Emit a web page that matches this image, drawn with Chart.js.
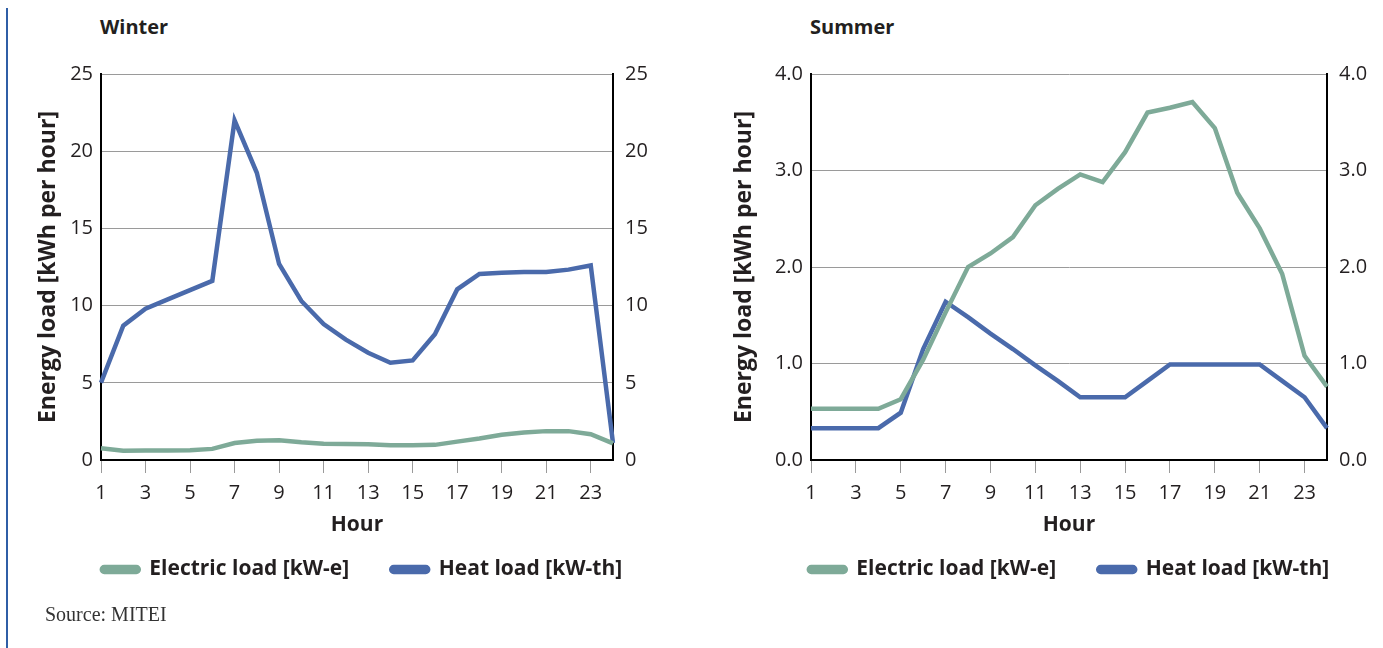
<!DOCTYPE html>
<html>
<head>
    <title>Winter and Summer Energy Load</title>
    <script src="https://cdn.jsdelivr.net/npm/chart.js"></script>
    <style>
        body {
            margin: 0;
            width: 1383px;
            height: 648px;
            overflow: hidden;
            position: relative;
            background: #fff;
            font-family: "Open Sans", sans-serif;
            color: #231f20;
        }

        .side-bar {
            position: absolute;
            left: 6px;
            top: 8px;
            width: 2px;
            height: 640px;
            background: #2f5ea6;
        }

        .panel-title {
            position: absolute;
            top: 13px;
            font-weight: bold;
            font-size: 20px;
        }

        .chart-box {
            position: absolute;
            top: 50px;
            height: 560px;
        }

        .source {
            position: absolute;
            left: 45px;
            top: 603px;
            font-family: "Liberation Serif", serif;
            font-size: 20px;
            color: #333;
        }
    </style>
</head>
<body>
    <div class="side-bar"></div>
    <div class="panel-title" style="left: 100px;">Winter</div>
    <div class="panel-title" style="left: 810px;">Summer</div>
    <div class="chart-box" style="left: 20px; width: 674px;"><canvas id="winter"></canvas></div>
    <div class="chart-box" style="left: 730px; width: 678px;"><canvas id="summer"></canvas></div>
    <div class="source">Source: MITEI</div>

    <script>
        // hours of the day, only odd ones get a label
        const HOURS = ['1', '2', '3', '4', '5', '6', '7', '8', '9', '10', '11', '12',
                       '13', '14', '15', '16', '17', '18', '19', '20', '21', '22', '23', '24'];
        const SERIES_NAMES = ['Electric load [kW-e]', 'Heat load [kW-th]'];

        const WINTER_ELECTRIC = [0.76, 0.6, 0.61, 0.61, 0.63, 0.72, 1.1, 1.24, 1.28, 1.15, 1.06, 1.04,
                                 1.02, 0.95, 0.95, 0.98, 1.19, 1.39, 1.63, 1.78, 1.87, 1.87, 1.67, 1.08];
        const WINTER_HEAT = [5.0, 8.7, 9.8, 10.4, 11.0, 11.6, 22.0, 18.6, 12.7, 10.3, 8.8, 7.8,
                             6.95, 6.3, 6.45, 8.15, 11.05, 12.05, 12.13, 12.17, 12.17, 12.33, 12.6, 1.1];
        const WINTER_TICKS = [0, 5, 10, 15, 20, 25];

        const SUMMER_ELECTRIC = [0.53, 0.53, 0.53, 0.53, 0.63, 1.04, 1.53, 2.0, 2.14, 2.31, 2.64, 2.81,
                                 2.96, 2.88, 3.19, 3.6, 3.65, 3.71, 3.44, 2.77, 2.4, 1.93, 1.08, 0.76];
        const SUMMER_HEAT = [0.33, 0.33, 0.33, 0.33, 0.49, 1.15, 1.64, 1.48, 1.31, 1.15, 0.98, 0.82,
                             0.65, 0.65, 0.65, 0.82, 0.99, 0.99, 0.99, 0.99, 0.99, 0.82, 0.65, 0.33];
        const SUMMER_TICKS = [0, 1, 2, 3, 4];

        const GREEN = '#7eaa98';
        const BLUE = '#4a6aab';
        const INK = '#231f20';
        const FONT = 'Open Sans';

        // leftPad nudges the centred legend; the y axis gives the same room back
        function makeChart(id, electric, heat, yTicks, decimals, titlePad, leftPad) {
            const tickFont = { family: FONT, size: 20 };
            const boldFont = { family: FONT, size: 21, weight: 'bold' };
            const tickOpts = (pad) => ({
                stepSize: yTicks[1] - yTicks[0],
                padding: pad,
                color: INK,
                font: tickFont,
                callback: v => v.toFixed(decimals)
            });

            return new Chart(document.getElementById(id), {
                type: 'line',
                data: {
                    labels: HOURS,
                    datasets: [
                        { label: SERIES_NAMES[0], data: electric, borderColor: GREEN, backgroundColor: GREEN, yAxisID: 'y' },
                        { label: SERIES_NAMES[1], data: heat, borderColor: BLUE, backgroundColor: BLUE, yAxisID: 'y' }
                    ]
                },
                options: {
                    responsive: true,
                    maintainAspectRatio: false,
                    animation: false,
                    layout: { padding: { top: 24, bottom: 20, left: leftPad } },
                    elements: {
                        point: { radius: 0 },
                        line: { tension: 0, borderWidth: 4.5 }
                    },
                    plugins: {
                        tooltip: { enabled: false },
                        legend: {
                            position: 'bottom',
                            labels: {
                                boxWidth: 37,
                                boxHeight: 5,
                                useBorderRadius: true,
                                borderRadius: 2.5,
                                padding: 21,
                                color: INK,
                                font: boldFont,
                                // wider gap after the first entry
                                generateLabels: chart => Chart.defaults.plugins.legend.labels.generateLabels(chart)
                                    .map((item, i) => ({ ...item, text: i === 0 ? item.text + '\u2003' : item.text }))
                            }
                        }
                    },
                    scales: {
                        x: {
                            grid: { drawOnChartArea: false, drawTicks: true, tickLength: 13, color: '#9a9a9a' },
                            border: { color: '#000', width: 2 },
                            ticks: {
                                autoSkip: false,
                                maxRotation: 0,
                                padding: 8,
                                color: INK,
                                font: tickFont,
                                callback: (v, i) => (i % 2 === 0 ? HOURS[i] : null)
                            },
                            title: { display: true, text: 'Hour', color: INK, font: boldFont, padding: { top: 4, bottom: 0 } },
                            afterFit: s => { s.height = 78; }
                        },
                        y: {
                            position: 'left',
                            min: yTicks[0],
                            max: yTicks[yTicks.length - 1],
                            ticks: tickOpts(8),
                            grid: { color: '#9a9a9a', drawTicks: false },
                            border: { color: '#000', width: 2 },
                            title: {
                                display: true,
                                text: 'Energy load [kWh per hour]',
                                color: INK,
                                font: { family: FONT, size: 23, weight: 'bold' },
                                padding: { top: titlePad, bottom: titlePad }
                            },
                            afterFit: s => { s.width = 81 - leftPad; }
                        },
                        y2: {
                            position: 'right',
                            min: yTicks[0],
                            max: yTicks[yTicks.length - 1],
                            ticks: tickOpts(12),
                            grid: { drawOnChartArea: false, drawTicks: false },
                            border: { color: '#000', width: 2 },
                            afterFit: s => { s.width = 81; }
                        }
                    }
                }
            });
        }

        makeChart('winter', WINTER_ELECTRIC, WINTER_HEAT, WINTER_TICKS, 0, 5, 10);
        makeChart('summer', SUMMER_ELECTRIC, SUMMER_HEAT, SUMMER_TICKS, 1, 1, 0);
    </script>
</body>
</html>
